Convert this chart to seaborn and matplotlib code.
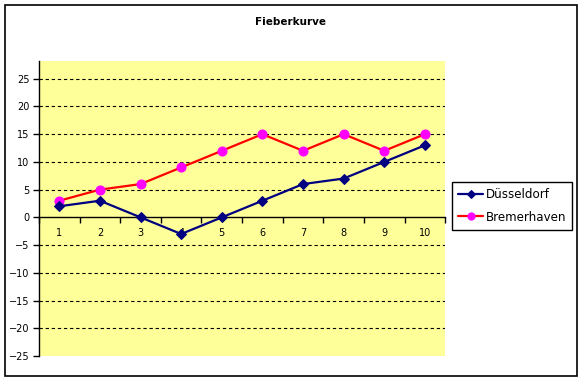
import pandas as pd
import matplotlib.pyplot as plt
import seaborn as sns
from matplotlib.patches import Rectangle

# Daten
tage = [1, 2, 3, 4, 5, 6, 7, 8, 9, 10]
duesseldorf = [2, 3, 0, -3, 0, 3, 6, 7, 10, 13]
bremerhaven = [3, 5, 6, 9, 12, 15, 12, 15, 12, 15]
y_ticks = [-25, -20, -15, -10, -5, 0, 5, 10, 15, 20, 25]

df = pd.DataFrame({
    'pos': list(range(len(tage))) * 2,
    'wert': duesseldorf + bremerhaven,
    'stadt': ['Düsseldorf'] * len(tage) + ['Bremerhaven'] * len(tage),
})

sns.set_theme(style="white")
plt.rcParams['font.family'] = ['DejaVu Sans']
plt.rcParams['text.color'] = 'black'
plt.rcParams['xtick.color'] = 'black'
plt.rcParams['ytick.color'] = 'black'

fig = plt.figure(figsize=(5.82, 3.81), dpi=100)
ax = fig.add_axes([0.067, 0.0656, 0.698, 0.7744])
ax.set_facecolor('#FFFF99')

sns.lineplot(data=df[df['stadt'] == 'Düsseldorf'], x='pos', y='wert', ax=ax,
             color='#000080', marker='D', markersize=5.5, markerfacecolor='#000080',
             markeredgecolor='#000080', linewidth=1.6, label='Düsseldorf', zorder=4)
sns.lineplot(data=df[df['stadt'] == 'Bremerhaven'], x='pos', y='wert', ax=ax,
             color='#FF0000', marker='o', markersize=6.5, markerfacecolor='#FF00FF',
             markeredgecolor='#FF00FF', linewidth=1.6, label='Bremerhaven', zorder=3)

ax.set_xlim(-0.5, len(tage) - 0.5)
ax.set_ylim(-25, 28.2)

# Gitterlinien
for y in y_ticks:
    if y not in (0, -25):
        ax.axhline(y, color='black', linestyle=(0, (3, 2.5)), linewidth=0.8, zorder=1)

# Achsen
for s in ['top', 'right']:
    ax.spines[s].set_visible(False)
ax.spines['left'].set_color('black')
ax.spines['left'].set_linewidth(1)
ax.spines['bottom'].set_position(('data', 0))
ax.spines['bottom'].set_color('black')
ax.spines['bottom'].set_linewidth(1)

ax.set_yticks(y_ticks)
ax.tick_params(axis='y', direction='out', length=4, width=1, color='black',
               labelsize=7, labelcolor='black', pad=3, left=True)

ax.set_xticks([i - 0.5 for i in range(len(tage) + 1)])
ax.set_xticklabels([])
ax.set_xticks(list(range(len(tage))), minor=True)
ax.set_xticklabels([str(t) for t in tage], minor=True)
ax.tick_params(axis='x', which='major', direction='out', length=4, width=1,
               color='black', bottom=True)
ax.tick_params(axis='x', which='minor', length=0, labelsize=7, labelcolor='black',
               pad=8, bottom=True)

ax.set_xlabel('')
ax.set_ylabel('')

fig.text(0.5, 0.942, 'Fieberkurve', ha='center', va='center', fontsize=7.5,
         fontweight='bold', color='black')

if ax.legend_:
    ax.legend_.remove()
handles, labels = ax.get_legend_handles_labels()
leg = fig.legend(handles, labels, loc='upper left', bbox_to_anchor=(0.777, 0.522),
                 fontsize=8.6, frameon=True, fancybox=False, framealpha=1,
                 edgecolor='black', borderpad=0.5, handlelength=2.1,
                 handletextpad=0.2, labelspacing=0.8, markerscale=0.8,
                 borderaxespad=0)
leg.get_frame().set_linewidth(1)

# Rahmen um die Grafik
fig.patches.append(Rectangle((5 / 582, 5 / 381), 572 / 582, 371 / 381,
                             transform=fig.transFigure, fill=False,
                             edgecolor='black', linewidth=1.2))

fig.savefig('out.png', dpi=100)
